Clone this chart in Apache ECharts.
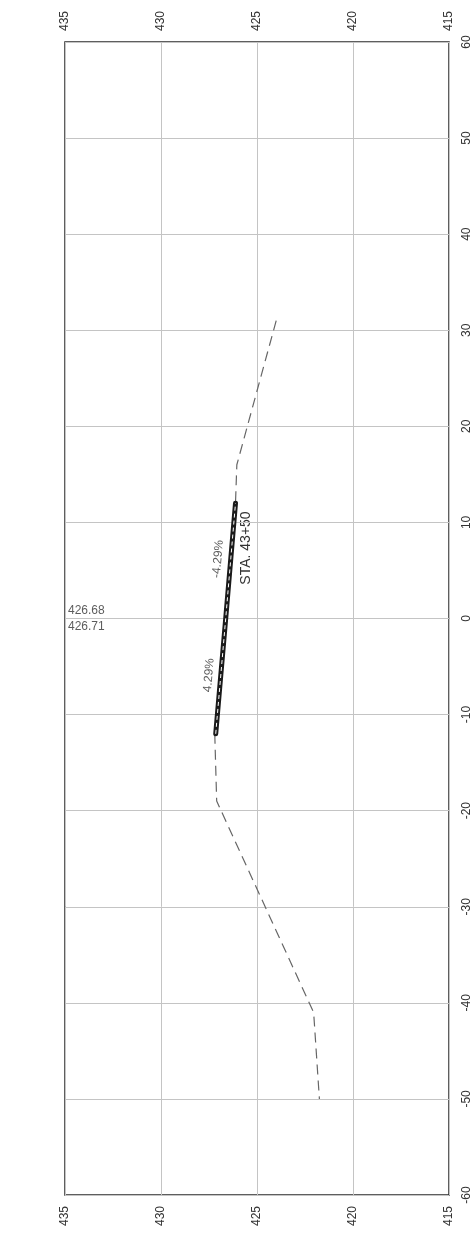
<!DOCTYPE html>
<html>
<head>
<meta charset="utf-8">
<script src="https://cdn.jsdelivr.net/npm/echarts@6/dist/echarts.min.js"></script>
<style>
html,body{margin:0;padding:0;background:#fff;}
#chart{width:475px;height:1236px;}
</style>
</head>
<body>
<div id="chart"></div>
<script>
// Data (station offset in ft, elevation in ft)
const titleText = 'STA. 43+50';
const groundRightStation = [31, 16, 12];
const groundRightElev = [424.0, 426.05, 426.12];
const groundLeftStation = [-12, -19, -41, -50];
const groundLeftElev = [427.2, 427.1, 422.05, 421.75];
const designStation = [-12, 0, 12];
const designElev = [427.15, 426.63, 426.12];
const slopeLabels = ['4.29%', '-4.29%'];
const slopeLabelStation = [-5.9, 6.2];
const slopeLabelElev = [427.5, 427.03];
const centerLabels = ['426.68', '426.71'];

const zip = (s, e) => s.map((v, i) => [e[i], v]);
const font = 'Liberation Sans, Arial, sans-serif';

const chart = echarts.init(document.getElementById('chart'), null, {renderer: 'canvas'});
const elevAxisBase = {
  type: 'value', min: 415, max: 435, interval: 5, inverse: true,
  axisLine: {show: false}, axisTick: {show: false},
  splitLine: {show: true, lineStyle: {color: '#c4c4c4', width: 1}},
  axisLabel: {rotate: 90, margin: 11, color: '#333', fontSize: 12, fontFamily: font}
};
chart.setOption({
  animation: false,
  grid: {left: 65, right: 26, top: 42, bottom: 41, show: true, borderColor: '#2a2a2a', borderWidth: 1.5, backgroundColor: 'transparent'},
  graphic: [{
    type: 'text', x: 246, y: 548, rotation: Math.PI / 2,
    style: {text: titleText, align: 'center', verticalAlign: 'middle', font: '14px ' + font, fill: '#333'}
  }],
  xAxis: [
    Object.assign({}, elevAxisBase, {position: 'top'}),
    Object.assign({}, elevAxisBase, {position: 'bottom', splitLine: {show: false}})
  ],
  yAxis: {
    type: 'value', min: -60, max: 60, interval: 10, position: 'right',
    axisLine: {show: false}, axisTick: {show: false},
    splitLine: {show: true, lineStyle: {color: '#c4c4c4', width: 1}},
    axisLabel: {rotate: 90, margin: 12, color: '#333', fontSize: 12, fontFamily: font}
  },
  series: [
    {type: 'line', data: zip(groundRightStation, groundRightElev), symbol: 'none',
     lineStyle: {color: '#666', width: 1.2, type: [10, 6]}},
    {type: 'line', data: zip(groundLeftStation, groundLeftElev), symbol: 'none',
     lineStyle: {color: '#666', width: 1.2, type: [10, 6]}},
    {type: 'line', data: zip(designStation, designElev), symbol: 'none',
     lineStyle: {color: '#1a1a1a', width: 5, cap: 'round'}},
    {type: 'line', data: zip(designStation, designElev), symbol: 'none',
     lineStyle: {color: '#fff', width: 1, type: [4, 3]}},
    {type: 'scatter', symbolSize: 0, silent: true,
     data: slopeLabels.map((t, i) => ({value: [slopeLabelElev[i], slopeLabelStation[i]], name: t})),
     label: {show: true, position: 'inside', rotate: 85, formatter: p => p.name, color: '#333', fontSize: 12, fontFamily: font}},
    {type: 'scatter', symbolSize: 0, silent: true,
     data: [{value: [435, 0], name: centerLabels[0], label: {position: [3, -14]}},
            {value: [435, 0], name: centerLabels[1], label: {position: [3, 2]}}],
     label: {show: true, formatter: p => p.name, color: '#333', fontSize: 12, fontFamily: font, align: 'left', verticalAlign: 'top'}}
  ]
});
</script>
</body>
</html>
